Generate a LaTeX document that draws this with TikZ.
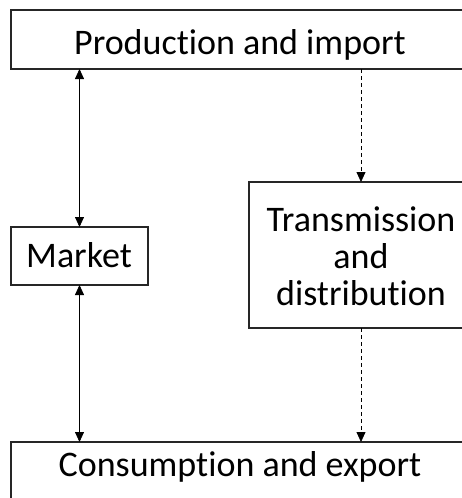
\documentclass[tikz,border=0pt]{standalone}
\usepackage{fontspec}
\setmainfont{Carlito}[Ligatures={NoCommon,NoContextual}]
\usetikzlibrary{arrows.meta}
\tikzset{
  box/.style={draw=black!85, line width=1.3pt, inner sep=0pt, outer sep=0pt},
  lbl/.style={font=\fontsize{36}{37}\selectfont, inner sep=0pt, align=center},
  link/.style={line width=0.8pt, {Triangle[length=10pt,width=9pt]}-{Triangle[length=10pt,width=9pt]}},
  dlink/.style={line width=0.8pt, dash pattern=on 4pt off 3pt, -{Triangle[length=10pt,width=9pt]}}
}
\begin{document}
\begin{tikzpicture}[x=1pt,y=-1pt]
\useasboundingbox (0,0) rectangle (462,498);
\clip (0,0) rectangle (462,498);
% boxes
\node[box, minimum width=460pt, minimum height=59pt] (prod) at (241,39.5) {};
\node[lbl, anchor=base] (prodtxt) at (240,54) {Production and import};
\node[box, minimum width=137pt, minimum height=58pt] (market) at (79.5,256) {};
\node[lbl, anchor=base] (markettxt) at (79,267) {Market};
\node[box, minimum width=224pt, minimum height=146pt] (trans) at (361,255) {};
\node[lbl] (transtxt) at (361,256) {Transmission\\and\\distribution};
\node[box, minimum width=460pt, minimum height=100pt] (cons) at (241,492) {};
\node[lbl, anchor=base] (constxt) at (240,476) {Consumption and export};
% connectors
\draw[link] (prod.south -| market.north) -- (market.north);
\draw[link] (market.south) -- (market.south |- cons.north);
\draw[dlink] (prod.south -| trans.north) -- (trans.north);
\draw[dlink] (trans.south) -- (trans.south |- cons.north);
\end{tikzpicture}
\end{document}
